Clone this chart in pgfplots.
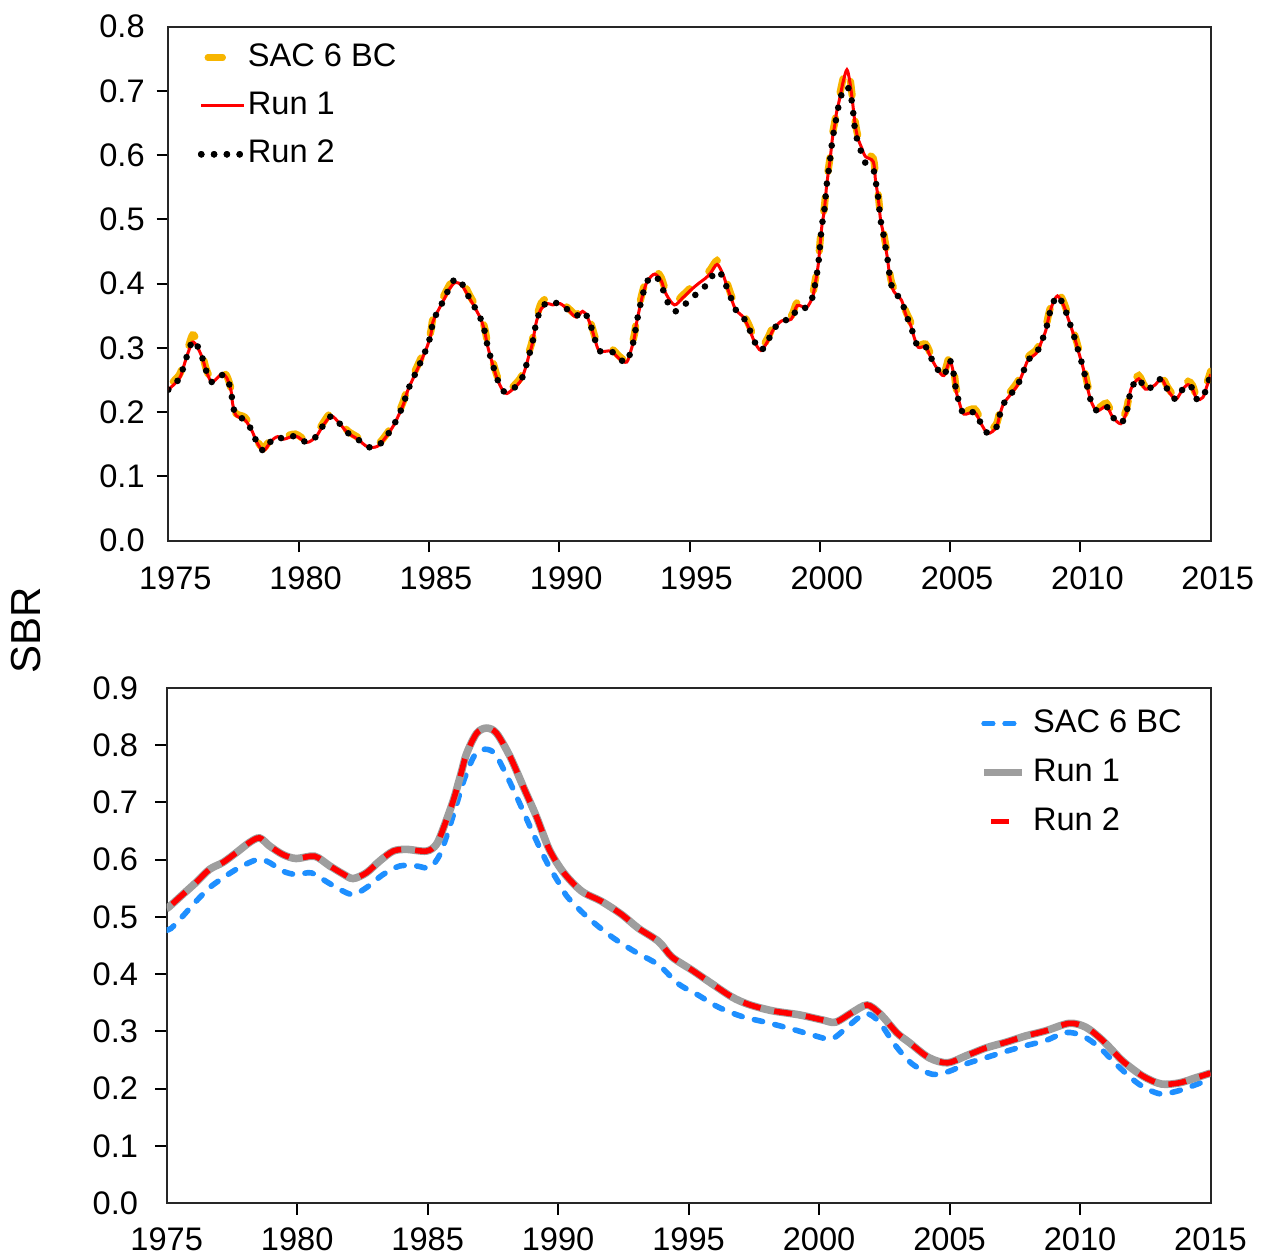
\documentclass[border=0pt]{standalone}
\usepackage{fontspec}
\setmainfont{Liberation Sans}
\usepackage{pgfplots}
\pgfplotsset{compat=1.18}
\usepackage{pgfplotstable}

\definecolor{sacorange}{HTML}{F7B500}
\definecolor{runred}{HTML}{FF0000}
\definecolor{sacblue}{HTML}{1E8FFF}
\definecolor{rungray}{HTML}{9E9E9E}
\newcommand{\fs}{\fontsize{16.3}{19}\selectfont}

\pgfplotstableread{
year sac run1 run2
1975.00 0.240 0.235 0.235
1975.42 0.258 0.252 0.252
1975.58 0.276 0.270 0.270
1975.72 0.294 0.288 0.288
1975.93 0.320 0.309 0.311
1976.12 0.310 0.301 0.303
1976.32 0.288 0.283 0.283
1976.45 0.268 0.265 0.265
1976.66 0.250 0.247 0.247
1976.92 0.258 0.255 0.255
1977.08 0.264 0.260 0.258
1977.25 0.256 0.253 0.253
1977.41 0.236 0.233 0.233
1977.47 0.216 0.213 0.213
1977.60 0.198 0.195 0.195
1977.94 0.192 0.188 0.188
1978.21 0.174 0.171 0.171
1978.40 0.156 0.153 0.153
1978.66 0.144 0.140 0.140
1978.94 0.160 0.155 0.155
1979.20 0.166 0.162 0.162
1979.43 0.162 0.158 0.158
1979.88 0.166 0.163 0.163
1980.32 0.156 0.153 0.153
1980.67 0.165 0.162 0.162
1980.92 0.182 0.178 0.178
1981.25 0.199 0.194 0.194
1981.56 0.187 0.183 0.183
1981.88 0.171 0.168 0.168
1982.27 0.161 0.158 0.158
1982.65 0.150 0.146 0.146
1983.03 0.150 0.147 0.147
1983.36 0.165 0.162 0.162
1983.64 0.183 0.179 0.179
1983.87 0.202 0.198 0.198
1984.03 0.218 0.213 0.213
1984.19 0.239 0.234 0.234
1984.57 0.273 0.268 0.268
1984.76 0.290 0.285 0.285
1984.95 0.309 0.304 0.304
1985.08 0.327 0.322 0.322
1985.15 0.345 0.340 0.340
1985.34 0.362 0.357 0.357
1985.56 0.380 0.374 0.374
1985.79 0.398 0.392 0.394
1986.02 0.410 0.402 0.408
1986.27 0.406 0.397 0.400
1986.55 0.383 0.378 0.378
1986.79 0.366 0.361 0.361
1987.00 0.349 0.344 0.344
1987.14 0.331 0.326 0.326
1987.23 0.312 0.307 0.307
1987.35 0.293 0.288 0.288
1987.48 0.275 0.270 0.270
1987.62 0.256 0.252 0.252
1987.83 0.238 0.234 0.234
1987.99 0.232 0.229 0.231
1988.28 0.242 0.238 0.238
1988.54 0.255 0.250 0.250
1988.70 0.273 0.268 0.268
1988.83 0.292 0.287 0.287
1988.96 0.310 0.305 0.305
1989.05 0.330 0.325 0.325
1989.14 0.348 0.343 0.343
1989.31 0.370 0.361 0.361
1989.56 0.378 0.369 0.372
1989.75 0.372 0.367 0.370
1990.04 0.372 0.369 0.369
1990.37 0.361 0.358 0.358
1990.65 0.352 0.348 0.350
1990.90 0.362 0.357 0.357
1991.07 0.353 0.349 0.349
1991.25 0.334 0.330 0.330
1991.38 0.316 0.312 0.312
1991.55 0.299 0.295 0.295
1991.99 0.299 0.295 0.295
1992.31 0.287 0.283 0.283
1992.59 0.280 0.278 0.278
1992.76 0.301 0.297 0.297
1992.89 0.322 0.317 0.317
1992.95 0.340 0.335 0.335
1993.04 0.358 0.353 0.353
1993.15 0.380 0.374 0.374
1993.27 0.398 0.392 0.392
1993.40 0.412 0.405 0.405
1993.66 0.421 0.415 0.412
1993.91 0.410 0.405 0.400
1994.10 0.388 0.384 0.376
1994.42 0.371 0.367 0.357
1994.74 0.382 0.378 0.365
1995.10 0.396 0.392 0.378
1995.40 0.407 0.402 0.389
1995.60 0.413 0.408 0.396
1995.80 0.422 0.416 0.408
1996.06 0.436 0.430 0.420
1996.29 0.421 0.414 0.410
1996.45 0.400 0.394 0.392
1996.61 0.381 0.376 0.376
1996.78 0.364 0.359 0.359
1997.06 0.353 0.348 0.348
1997.29 0.335 0.330 0.330
1997.48 0.316 0.311 0.311
1997.74 0.300 0.296 0.296
1998.02 0.317 0.312 0.312
1998.21 0.333 0.328 0.328
1998.53 0.346 0.342 0.342
1998.91 0.350 0.345 0.345
1999.13 0.371 0.366 0.361
1999.49 0.368 0.363 0.363
1999.72 0.384 0.379 0.379
1999.81 0.402 0.397 0.397
1999.90 0.423 0.418 0.418
1999.96 0.442 0.437 0.437
2000.04 0.479 0.474 0.474
2000.09 0.498 0.493 0.493
2000.17 0.518 0.513 0.513
2000.22 0.539 0.534 0.534
2000.26 0.557 0.552 0.552
2000.32 0.576 0.571 0.571
2000.39 0.596 0.591 0.591
2000.49 0.633 0.628 0.626
2000.58 0.653 0.648 0.645
2000.64 0.671 0.666 0.660
2000.74 0.690 0.684 0.680
2000.90 0.720 0.715 0.703
2001.04 0.736 0.733 0.706
2001.15 0.722 0.715 0.700
2001.25 0.690 0.685 0.678
2001.35 0.655 0.650 0.640
2001.45 0.632 0.628 0.622
2001.60 0.617 0.612 0.604
2001.75 0.603 0.598 0.588
2002.05 0.595 0.590 0.578
2002.14 0.566 0.560 0.560
2002.24 0.539 0.534 0.534
2002.33 0.505 0.500 0.500
2002.42 0.487 0.482 0.482
2002.50 0.467 0.462 0.462
2002.59 0.446 0.441 0.441
2002.71 0.410 0.405 0.405
2002.84 0.393 0.388 0.388
2003.14 0.378 0.374 0.374
2003.29 0.358 0.353 0.353
2003.48 0.341 0.336 0.336
2003.61 0.323 0.318 0.318
2003.78 0.305 0.301 0.301
2004.06 0.306 0.302 0.302
2004.25 0.291 0.286 0.286
2004.50 0.272 0.268 0.268
2004.76 0.261 0.257 0.257
2004.98 0.288 0.280 0.280
2005.08 0.276 0.270 0.270
2005.17 0.257 0.252 0.252
2005.23 0.238 0.233 0.233
2005.36 0.219 0.214 0.214
2005.53 0.202 0.197 0.197
2005.94 0.205 0.200 0.200
2006.19 0.187 0.182 0.182
2006.45 0.171 0.167 0.167
2006.77 0.181 0.176 0.176
2006.90 0.200 0.195 0.195
2007.05 0.218 0.213 0.213
2007.35 0.234 0.229 0.229
2007.60 0.248 0.243 0.243
2007.80 0.267 0.262 0.262
2007.99 0.286 0.281 0.281
2008.31 0.297 0.292 0.292
2008.50 0.314 0.309 0.309
2008.67 0.332 0.327 0.327
2008.78 0.352 0.347 0.347
2008.91 0.371 0.366 0.366
2009.12 0.388 0.381 0.381
2009.36 0.371 0.366 0.366
2009.52 0.352 0.347 0.347
2009.68 0.333 0.328 0.328
2009.82 0.315 0.310 0.310
2009.95 0.296 0.291 0.291
2010.08 0.278 0.273 0.273
2010.19 0.259 0.254 0.254
2010.29 0.240 0.235 0.235
2010.42 0.221 0.216 0.216
2010.64 0.206 0.202 0.202
2011.00 0.214 0.209 0.209
2011.23 0.197 0.193 0.193
2011.55 0.186 0.182 0.182
2011.76 0.204 0.199 0.199
2011.86 0.223 0.218 0.218
2011.95 0.242 0.237 0.237
2012.24 0.257 0.252 0.252
2012.49 0.240 0.236 0.236
2012.85 0.246 0.242 0.242
2013.11 0.256 0.252 0.252
2013.36 0.238 0.234 0.234
2013.66 0.224 0.220 0.220
2013.91 0.239 0.235 0.235
2014.13 0.248 0.243 0.243
2014.30 0.242 0.237 0.237
2014.47 0.224 0.220 0.220
2014.70 0.227 0.223 0.223
2014.85 0.245 0.240 0.240
2015.00 0.264 0.259 0.259
}\toptable

\pgfplotstableread{
year val
1975.00 0.515
1975.10 0.518
1975.61 0.539
1976.12 0.560
1976.64 0.583
1977.15 0.595
1977.66 0.612
1978.17 0.630
1978.56 0.638
1978.94 0.624
1979.45 0.609
1979.96 0.602
1980.67 0.606
1981.25 0.589
1981.76 0.575
1982.14 0.567
1982.65 0.577
1983.17 0.598
1983.68 0.615
1984.19 0.618
1984.95 0.615
1985.34 0.627
1985.66 0.662
1985.98 0.703
1986.24 0.744
1986.49 0.785
1986.88 0.821
1987.26 0.830
1987.64 0.821
1988.16 0.780
1988.67 0.727
1989.18 0.674
1989.66 0.618
1990.20 0.578
1990.90 0.545
1991.67 0.527
1992.44 0.504
1993.08 0.480
1993.85 0.457
1994.36 0.430
1995.13 0.407
1995.90 0.383
1996.66 0.360
1997.30 0.347
1998.20 0.336
1999.22 0.329
2000.12 0.320
2000.63 0.316
2001.27 0.333
2001.84 0.346
2002.35 0.330
2002.99 0.297
2003.44 0.281
2004.21 0.254
2004.92 0.245
2005.62 0.257
2006.39 0.271
2007.16 0.281
2007.92 0.292
2008.69 0.301
2009.59 0.314
2010.23 0.307
2010.87 0.284
2011.64 0.248
2012.40 0.222
2013.11 0.208
2013.81 0.210
2014.45 0.219
2015.00 0.227
}\botrun

\pgfplotstableread{
year val
1975.00 0.477
1975.17 0.480
1975.61 0.501
1976.12 0.527
1976.64 0.551
1977.15 0.568
1977.66 0.583
1978.17 0.595
1978.56 0.601
1978.94 0.595
1979.45 0.580
1979.96 0.574
1980.54 0.577
1981.11 0.562
1981.63 0.548
1982.14 0.539
1982.65 0.551
1983.29 0.574
1983.93 0.589
1984.57 0.589
1985.08 0.586
1985.47 0.609
1985.79 0.650
1986.11 0.697
1986.43 0.744
1986.81 0.783
1987.20 0.793
1987.58 0.785
1988.03 0.747
1988.54 0.697
1989.05 0.645
1989.56 0.596
1990.14 0.551
1990.39 0.533
1991.16 0.498
1992.06 0.465
1992.95 0.439
1993.85 0.416
1994.61 0.383
1995.38 0.363
1996.15 0.342
1997.04 0.326
1997.94 0.316
1998.96 0.304
1999.86 0.292
2000.50 0.287
2001.14 0.310
2001.78 0.331
2002.29 0.317
2002.93 0.275
2003.57 0.243
2004.34 0.225
2004.98 0.230
2005.62 0.243
2006.39 0.254
2007.16 0.265
2007.92 0.275
2008.69 0.284
2009.46 0.298
2010.10 0.292
2010.74 0.272
2011.51 0.237
2012.28 0.207
2013.04 0.191
2013.68 0.195
2014.45 0.207
2015.00 0.217
}\botsac

\pgfplotsset{
  myaxis/.style={
    scale only axis,
    xmin=1975, xmax=2015,
    xtick={1980,1985,...,2010},
    extra x ticks={1975,2015},
    tick align=outside,
    major tick length=5.8pt,
    xtick pos=bottom, ytick pos=left,
    every tick/.style={line width=1pt, black},
    axis line style={line width=1pt, black!85},
    ticklabel style={font=\fs},
    /pgf/number format/assume math mode=true,
    x tick label style={/pgf/number format/1000 sep={}},
    y tick label style={/pgf/number format/fixed, /pgf/number format/fixed zerofill, /pgf/number format/precision=1},
    extra x tick style={tick style={draw opacity=0}},
    extra y tick style={tick style={draw opacity=0}},
    legend cell align=left,
  }
}

\begin{document}
\begin{tikzpicture}
\path[use as bounding box] (0pt,0pt) rectangle (633pt,-628pt);
\node[rotate=90, font=\fontsize{21}{24}\selectfont] at (13pt,-315pt) {SBR};

\begin{axis}[myaxis,
  at={(84.15pt,-270.35pt)}, anchor=south west,
  width=521.2pt, height=257pt,
  ymin=0, ymax=0.8, ytick={0.1,0.2,...,0.71},
  extra y ticks={0,0.8},
  x tick label style={yshift=-3.5pt, xshift=3.5pt},
  y tick label style={xshift=-2.5pt},
  legend image code/.code={\path (0pt,0pt) -- (21.5pt,0pt); \draw[#1] (0pt,0pt) -- (21.5pt,0pt);},
  legend style={draw=none, fill=none, font=\fs, inner sep=0pt,
    at={(0.0278,0.971)}, anchor=north west, row sep=8.7pt,
    nodes={inner xsep=0pt, inner ysep=0pt, text height=12pt, text depth=3.5pt}},
]
\addplot[sacorange, line width=3.6pt, dash pattern=on 7pt off 13pt, dash phase=16.5pt, line cap=round, smooth] table[x=year, y=sac] {\toptable};
\addlegendentry{SAC 6 BC}
\addplot[runred, line width=1.5pt, smooth] table[x=year, y=run1] {\toptable};
\addlegendentry{Run 1}
\addplot[black, line width=3.3pt, dash pattern=on 0pt off 6.4pt, line cap=round, smooth] table[x=year, y=run2] {\toptable};
\addlegendentry{Run 2}
\end{axis}

\begin{axis}[myaxis,
  at={(83.35pt,-601.5pt)}, anchor=south west,
  width=521.9pt, height=257.5pt,
  ymin=0, ymax=0.9, ytick={0.1,0.2,...,0.81},
  extra y ticks={0,0.9},
  x tick label style={yshift=-3pt},
  y tick label style={xshift=-5pt},
  legend image code/.code={\path (0pt,0pt) -- (19pt,0pt); \draw[#1] (0pt,0pt) -- (19pt,0pt);},
  legend style={draw=none, fill=none, font=\fs, inner sep=0pt,
    at={(0.7792,0.9617)}, anchor=north west, row sep=9pt,
    nodes={inner xsep=3.5pt, inner ysep=0pt, text height=12pt, text depth=3.5pt}},
]
\addplot[sacblue, line width=2.8pt, dash pattern=on 4.2pt off 6.3pt, line cap=round, smooth] table[x=year, y=val] {\botsac};
\addlegendentry{SAC 6 BC}
\addplot[rungray, line width=3.8pt, smooth] table[x=year, y=val] {\botrun};
\addlegendentry{Run 1}
\addplot[runred, line width=2.8pt, dash pattern=on 9pt off 7pt, dash phase=12.5pt, smooth] table[x=year, y=val] {\botrun};
\addlegendentry{Run 2}
\end{axis}
\end{tikzpicture}
\end{document}
